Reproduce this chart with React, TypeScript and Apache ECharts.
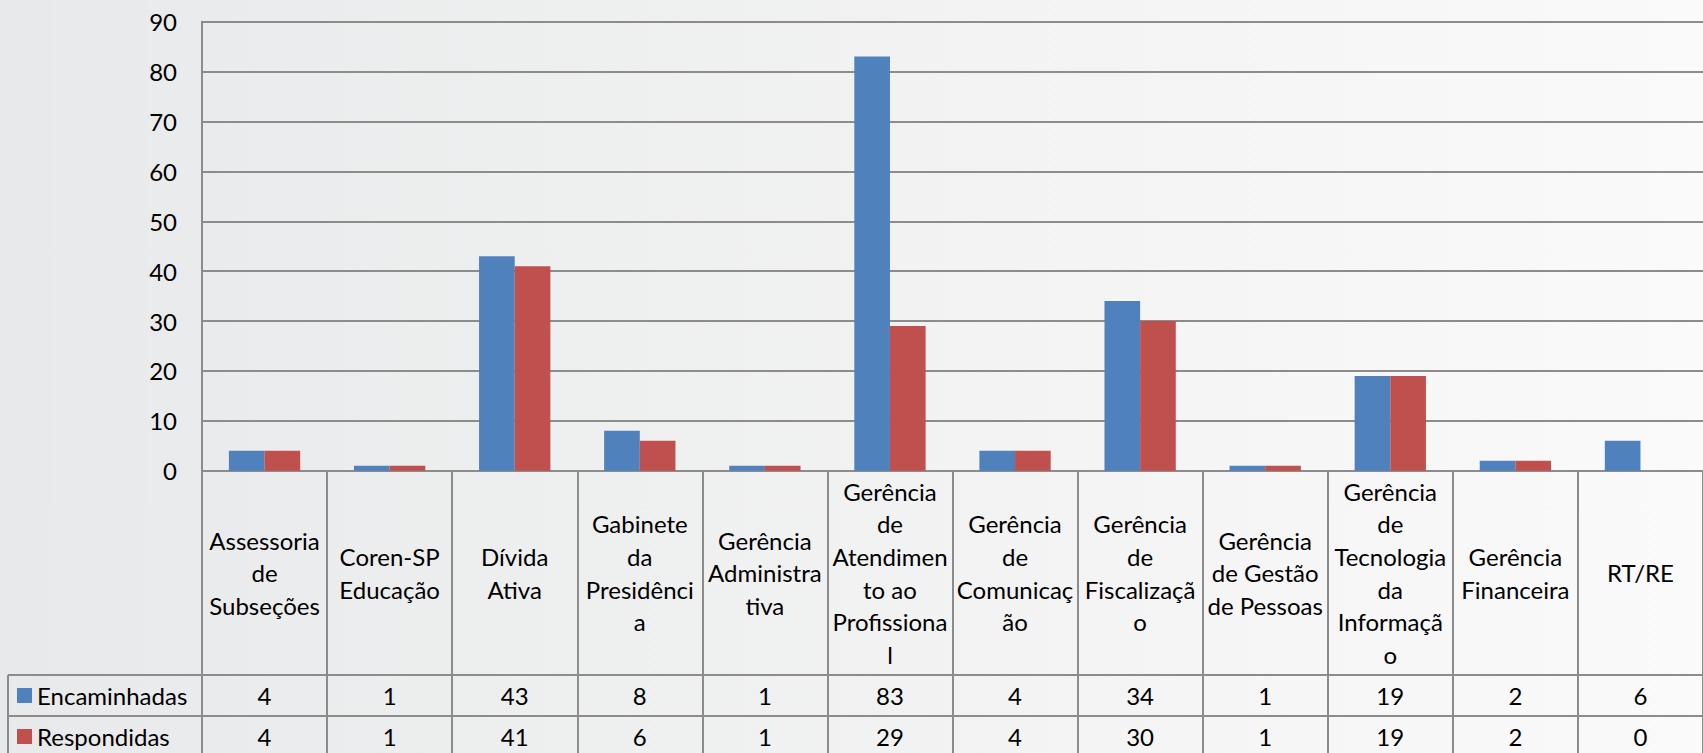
import React, { useEffect, useRef } from "react";
import * as echarts from "echarts";

const categories = [
  "Assessoria\nde\nSubseções",
  "Coren-SP\nEducação",
  "Dívida\nAtiva",
  "Gabinete\nda\nPresidênci\na",
  "Gerência\nAdministra\ntiva",
  "Gerência\nde\nAtendimen\nto ao\nProfissiona\nl",
  "Gerência\nde\nComunicaç\não",
  "Gerência\nde\nFiscalizaçã\no",
  "Gerência\nde Gestão\nde Pessoas",
  "Gerência\nde\nTecnologia\nda\nInformaçã\no",
  "Gerência\nFinanceira",
  "RT/RE",
];
const encaminhadas = [4, 1, 43, 8, 1, 83, 4, 34, 1, 19, 2, 6];
const respondidas = [4, 1, 41, 6, 1, 29, 4, 30, 1, 19, 2, 0];
const seriesNames = ["Encaminhadas", "Respondidas"];
const yTicks = { min: 0, max: 90, interval: 10 };

const FONT = "Lato";
const FS = 24;
const GRAY = "#8c8c8c";
const LW = 2;

const W = 1703;
const H = 753;
const GRID_LEFT = 202;
const GRID_TOP = 21.7;
const GRID_RIGHT_X = 1717;
const AXIS_Y = 470.7;
const ROW1_Y = 675;
const ROW2_Y = 716;
const ROW3_Y = 757;
const TABLE_LEFT = 8;

export default function App() {
  const ref = useRef<HTMLDivElement>(null);
  useEffect(() => {
    document.body.style.margin = "0";
    const chart = echarts.init(ref.current!, null, { renderer: "svg" });
    const textBase = { fontFamily: FONT, fontSize: FS, color: "#000" };
    const legendBase = {
      orient: "horizontal",
      left: 17,
      itemWidth: 15,
      itemHeight: 15,
      icon: "rect",
      selectedMode: false,
      padding: 0,
      textStyle: { ...textBase },
    };
    const option: any = {
      animation: false,
      textStyle: { fontFamily: FONT },
      grid: {
        left: GRID_LEFT,
        top: GRID_TOP,
        right: W - GRID_RIGHT_X,
        bottom: H - AXIS_Y,
        containLabel: false,
      },
      legend: [
        {
          ...legendBase,
          top: (ROW1_Y + ROW2_Y) / 2 - 12,
          height: 24,
          data: [seriesNames[0]],
        },
        {
          ...legendBase,
          top: (ROW2_Y + ROW3_Y) / 2 - 12,
          height: 24,
          data: [seriesNames[1]],
        },
      ],
      xAxis: [
        {
          type: "category",
          data: categories,
          position: "bottom",
          axisLine: { show: true, lineStyle: { color: GRAY, width: LW } },
          axisTick: {
            show: true,
            interval: 0,
            length: ROW3_Y - AXIS_Y,
            lineStyle: { color: GRAY, width: LW },
          },
          axisLabel: {
            interval: 0,
            ...textBase,
            lineHeight: 32.7,
            align: "center",
            verticalAlign: "middle",
            margin: (AXIS_Y + ROW1_Y) / 2 - AXIS_Y,
          },
          splitLine: { show: false },
        },
        {
          type: "category",
          data: categories,
          position: "bottom",
          offset: ROW1_Y - AXIS_Y,
          axisLine: { show: true, lineStyle: { color: GRAY, width: LW } },
          axisTick: { show: false },
          axisLabel: {
            interval: 0,
            ...textBase,
            verticalAlign: "middle",
            margin: (ROW2_Y - ROW1_Y) / 2,
            formatter: (_v: string, i: number) => String(encaminhadas[i]),
          },
        },
        {
          type: "category",
          data: categories,
          position: "bottom",
          offset: ROW2_Y - AXIS_Y,
          axisLine: { show: true, lineStyle: { color: GRAY, width: LW } },
          axisTick: { show: false },
          axisLabel: {
            interval: 0,
            ...textBase,
            verticalAlign: "middle",
            margin: (ROW3_Y - ROW2_Y) / 2,
            formatter: (_v: string, i: number) => String(respondidas[i]),
          },
        },
      ],
      yAxis: {
        type: "value",
        min: yTicks.min,
        max: yTicks.max,
        interval: yTicks.interval,
        axisLine: { show: true, lineStyle: { color: GRAY, width: LW } },
        axisTick: { show: false },
        axisLabel: { ...textBase, margin: 25 },
        splitLine: { show: true, lineStyle: { color: GRAY, width: LW } },
      },
      graphic: [
        {
          type: "line",
          shape: { x1: TABLE_LEFT, y1: ROW1_Y, x2: GRID_LEFT, y2: ROW1_Y },
          style: { stroke: GRAY, lineWidth: LW },
        },
        {
          type: "line",
          shape: { x1: TABLE_LEFT, y1: ROW2_Y, x2: GRID_LEFT, y2: ROW2_Y },
          style: { stroke: GRAY, lineWidth: LW },
        },
        {
          type: "line",
          shape: { x1: TABLE_LEFT, y1: ROW1_Y, x2: TABLE_LEFT, y2: ROW3_Y },
          style: { stroke: GRAY, lineWidth: LW },
        },
      ],
      series: [
        {
          name: seriesNames[0],
          type: "bar",
          data: encaminhadas,
          xAxisIndex: 0,
          barGap: "0%",
          barCategoryGap: "43%",
          itemStyle: { color: "#4f81bd" },
        },
        {
          name: seriesNames[1],
          type: "bar",
          data: respondidas,
          xAxisIndex: 0,
          barGap: "0%",
          barCategoryGap: "43%",
          itemStyle: { color: "#c0504d" },
        },
      ],
    };
    chart.setOption(option);
    return () => chart.dispose();
  }, []);
  return (
    <div
      ref={ref}
      style={{
        position: "fixed",
        left: 0,
        top: 0,
        width: W,
        height: H,
        background: "linear-gradient(to right, #e8e9ea, #fafafa)",
      }}
    />
  );
}
